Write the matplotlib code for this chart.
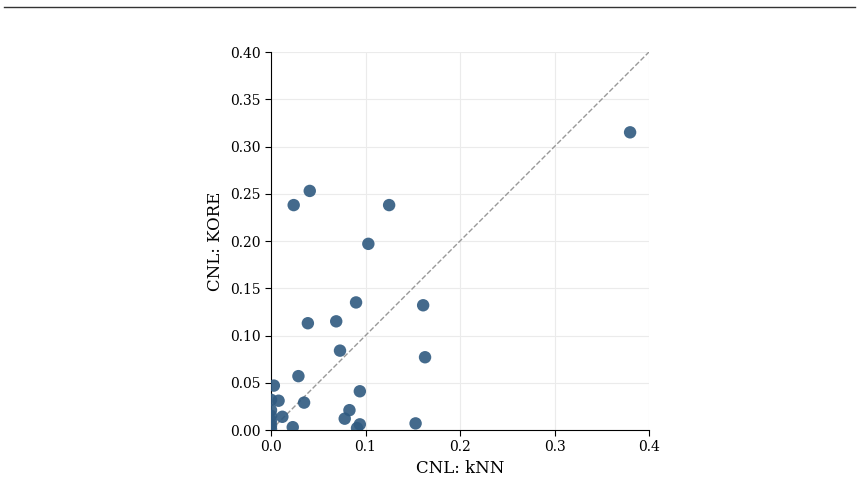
import matplotlib
matplotlib.use("Agg")
import matplotlib.pyplot as plt
from matplotlib.lines import Line2D

# CNL scores per entity: kNN baseline vs KORE
knn = [0.380, 0.041, 0.024, 0.125, 0.103, 0.090, 0.161, 0.039, 0.069, 0.073,
       0.163, 0.029, 0.003, 0.094, 0.008, 0.035, 0.083, 0.012, 0.078, 0.153,
       0.094, 0.091, 0.023, 0.0, 0.0, 0.0, 0.0, 0.0, 0.0]
kore = [0.315, 0.253, 0.238, 0.238, 0.197, 0.135, 0.132, 0.113, 0.115, 0.084,
        0.077, 0.057, 0.047, 0.041, 0.031, 0.029, 0.021, 0.014, 0.012, 0.007,
        0.006, 0.002, 0.003, 0.032, 0.021, 0.015, 0.010, 0.005, 0.001]

plt.rcParams['font.family'] = ['DejaVu Serif']

fig = plt.figure(figsize=(8.62, 4.86), dpi=100)
ax = fig.add_axes([0.3144, 0.1152, 0.4385, 0.7778])

ax.plot([0, 0.4], [0, 0.4], ls='--', color='#999999', lw=1, zorder=1)
ax.scatter(knn, kore, s=80, color='#2f5a80', alpha=0.9, edgecolors='none', zorder=3)

ax.set_xlim(0, 0.4)
ax.set_ylim(0, 0.4)
ax.set_xticks([0, 0.1, 0.2, 0.3, 0.4])
ax.set_yticks([0, 0.05, 0.1, 0.15, 0.2, 0.25, 0.3, 0.35, 0.4])
ax.set_xticklabels(["0.0", "0.1", "0.2", "0.3", "0.4"])
ax.set_yticklabels(["%.2f" % v for v in ax.get_yticks()])
ax.grid(True, color='#ebebeb', lw=0.8)
ax.set_axisbelow(True)
for s in ['top', 'right']:
    ax.spines[s].set_visible(False)
ax.tick_params(labelsize=10, color='black', length=4)
ax.set_xlabel("CNL: kNN", fontsize=12)
ax.set_ylabel("CNL: KORE", fontsize=12)

fig.add_artist(Line2D([0.005, 0.992], [0.986, 0.986], color='#333333', lw=1))

fig.savefig("out.png", dpi=100)
